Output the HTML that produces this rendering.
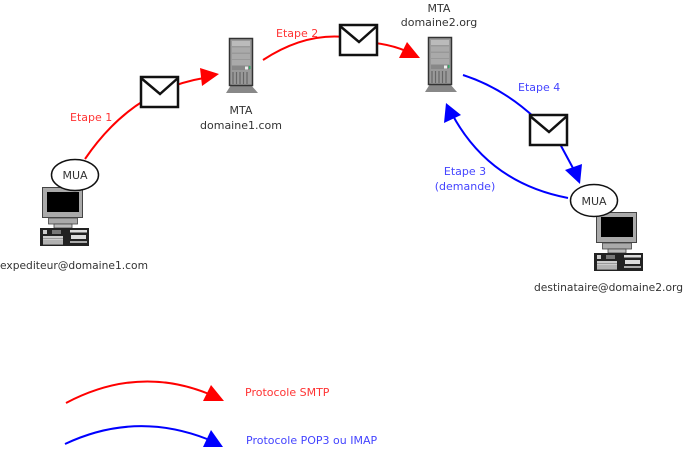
<!DOCTYPE html>
<html><head><meta charset="utf-8"><style>
html,body{margin:0;padding:0;background:#fff}
svg{display:block}
text{font-family:"DejaVu Sans",sans-serif;font-size:11px}
.d{fill:#333}.r{fill:#f33}.b{fill:#44f}
</style></head><body>
<svg width="700" height="466" viewBox="0 0 700 466" xmlns="http://www.w3.org/2000/svg">
<defs>
<g id="pc">
<rect x="42.500" y="187.500" width="40" height="30" fill="#aaa" stroke="#444"/>
<rect x="47" y="192" width="32" height="20" fill="#000"/>
<rect x="48.500" y="218" width="29" height="6" fill="#aaa" stroke="#444" stroke-width=".8"/>
<rect x="54" y="224" width="18" height="4" fill="#bbb" stroke="#444" stroke-width=".8"/>
<rect x="40" y="228" width="49" height="18" fill="#222"/>
<rect x="43" y="236" width="20" height="8.500" fill="#ccc"/>
<path d="M43 238.500H63M43 241H63M43 243H63" stroke="#888" stroke-width=".7"/>
<rect x="52" y="230" width="9" height="4" fill="#777"/>
<rect x="43" y="230" width="4" height="4" fill="#ccc"/>
<rect x="70" y="230" width="17" height="2.500" fill="#ddd"/>
<rect x="71" y="235" width="15" height="4" fill="#ddd"/>
<rect x="70" y="241" width="17" height="2" fill="#aaa"/>
</g>
<g id="srv">
<path d="M226 93L231 85H251L258 93Z" fill="#888"/>
<rect x="229.500" y="38.500" width="23" height="47" fill="#999" stroke="#333" stroke-width="1.500"/>
<rect x="232" y="41" width="18" height="5" fill="#bbb"/>
<rect x="232" y="47.500" width="18" height="5" fill="#aaa"/>
<rect x="232" y="54" width="18" height="5" fill="#aaa"/>
<rect x="232" y="60" width="18" height="5" fill="#aaa"/>
<rect x="232" y="66" width="18" height="4" fill="#888"/>
<rect x="245" y="66.500" width="3" height="3" fill="#eee"/>
<rect x="249" y="66" width="1.500" height="3" fill="#3a6"/>
<path d="M233 72V84M236.500 72V84M240 72V84M243.500 72V84M247 72V84" stroke="#666" stroke-width="1.200"/>
</g>
<g id="env" fill="#fff" stroke="#111" stroke-width="2.500">
<rect x="0" y="0" width="37" height="30"/>
<path d="M0 1L19 17L37 1" fill="none"/>
</g>
</defs>

<g fill="none" stroke-width="2">
<path d="M85 159Q132 90 204 78" stroke="#f00"/>
<path d="M263 60Q304 33 345 37" stroke="#f00"/>
<path d="M375 43Q392 45 406 51" stroke="#f00"/>
<path d="M463 75Q503 88 535 118" stroke="#00f"/>
<path d="M560 144L574 170" stroke="#00f"/>
<path d="M568 198Q489 183 452 114" stroke="#00f"/>
<path d="M66 403Q138 365 209 394" stroke="#f00"/>
<path d="M65 444Q135 411 207 439" stroke="#00f"/>
</g>
<g stroke="none">
<polygon points="200,68 219,74 202,86" fill="#f00"/>
<polygon points="407,42 420,58 399,58" fill="#f00"/>
<polygon points="565,170 582,164 580,184" fill="#00f"/>
<polygon points="446,103 461,115 444,123" fill="#00f"/>
<polygon points="203,401 211,385 224,401" fill="#f00"/>
<polygon points="203,447 211,430 223,447" fill="#00f"/>
</g>

<use href="#env" transform="translate(141,77)"/>
<use href="#env" transform="translate(340,25)"/>
<use href="#env" transform="translate(530,115)"/>

<use href="#srv"/>
<use href="#srv" transform="translate(199,-1)"/>
<use href="#pc"/>
<use href="#pc" transform="translate(554,25)"/>

<ellipse cx="75" cy="175" rx="23.500" ry="15.500" fill="#fff" stroke="#111" stroke-width="1.500"/>
<ellipse cx="594" cy="200.500" rx="23.500" ry="16" fill="#fff" stroke="#111" stroke-width="1.500"/>

<text x="75" y="179" text-anchor="middle" class="d">MUA</text>
<text x="594" y="205" text-anchor="middle" class="d">MUA</text>
<text x="70" y="121" class="r">Etape 1</text>
<text x="276" y="37" class="r">Etape 2</text>
<text x="518" y="91" class="b">Etape 4</text>
<text x="465" y="175" text-anchor="middle" class="b">Etape 3</text>
<text x="465" y="190" text-anchor="middle" class="b">(demande)</text>
<text x="241" y="114" text-anchor="middle" class="d">MTA</text>
<text x="241" y="129" text-anchor="middle" class="d">domaine1.com</text>
<text x="439" y="12" text-anchor="middle" class="d">MTA</text>
<text x="439" y="26" text-anchor="middle" class="d">domaine2.org</text>
<text x="0" y="269" class="d" textLength="148" lengthAdjust="spacingAndGlyphs">expediteur@domaine1.com</text>
<text x="534" y="291" class="d" textLength="149" lengthAdjust="spacingAndGlyphs">destinataire@domaine2.org</text>
<text x="245" y="396" class="r">Protocole SMTP</text>
<text x="246" y="444" class="b">Protocole POP3 ou IMAP</text>
</svg>
</body></html>
